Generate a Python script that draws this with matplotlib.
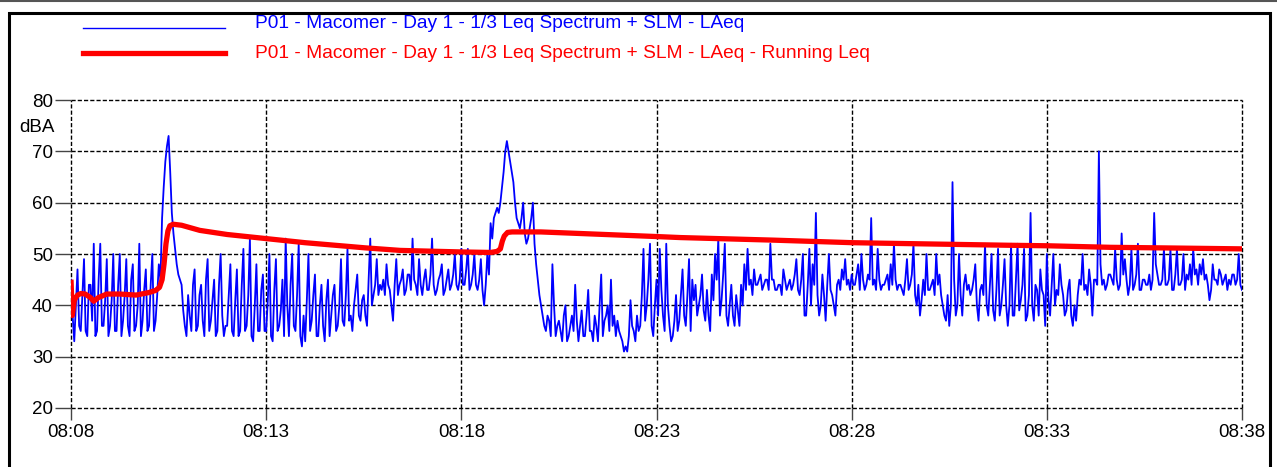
import numpy as np
import matplotlib
matplotlib.use('Agg')
import matplotlib.pyplot as plt
from matplotlib.patches import Rectangle
from matplotlib.lines import Line2D

plt.rcParams['font.family'] = ['Liberation Sans', 'DejaVu Sans']

# LAeq, one value every 5 s from 08:08:00 (one row = one minute)
laeq_5s = [
    45, 33, 47, 35, 49, 34, 44, 52, 35, 52, 36, 49,
    36, 50, 35, 50, 37, 49, 34, 48, 36, 52, 37, 47,
    36, 50, 37, 48, 57, 68, 73, 58, 51, 46, 44, 36,
    42, 35, 47, 36, 44, 34, 49, 37, 45, 35, 50, 34,
    36, 48, 34, 47, 35, 51, 36, 53, 33, 48, 35, 46,
    35, 50, 33, 49, 36, 45, 53, 34, 50, 35, 52, 32,
    33, 50, 37, 46, 34, 44, 33, 45, 38, 44, 36, 49,
    36, 51, 38, 40, 46, 37, 42, 36, 53, 42, 49, 44,
    45, 48, 43, 37, 49, 44, 47, 43, 46, 53, 44, 49,
    42, 47, 43, 53, 42, 45, 48, 43, 47, 44, 50, 43,
    51, 44, 51, 44, 50, 43, 49, 40, 50, 56, 57, 59,
    60, 66, 72, 68, 64, 57, 55, 60, 52, 55, 60, 48,
    42, 38, 35, 37, 48, 34, 37, 33, 40, 34, 38, 44,
    33, 39, 34, 43, 35, 38, 33, 46, 37, 40, 45, 38,
    37, 34, 31, 31, 41, 35, 38, 36, 51, 40, 52, 34,
    45, 51, 38, 52, 36, 34, 42, 37, 47, 36, 49, 45,
    44, 40, 46, 37, 38, 46, 50, 53, 41, 52, 36, 44,
    36, 39, 44, 48, 51, 45, 47, 44, 46, 44, 45, 52,
    45, 43, 44, 47, 43, 45, 44, 49, 42, 50, 38, 51,
    48, 58, 38, 46, 37, 50, 42, 38, 45, 47, 49, 45,
    46, 44, 48, 50, 43, 46, 57, 45, 51, 43, 44, 46,
    48, 52, 43, 44, 42, 49, 44, 52, 40, 38, 45, 50,
    43, 45, 50, 46, 40, 37, 36, 64, 38, 50, 38, 46,
    44, 43, 48, 37, 44, 52, 38, 50, 37, 51, 40, 49,
    36, 52, 38, 52, 41, 51, 38, 58, 37, 43, 47, 42,
    50, 38, 50, 43, 48, 42, 39, 45, 36, 37, 45, 50,
    44, 47, 38, 45, 70, 44, 43, 46, 45, 51, 43, 54,
    49, 42, 51, 44, 52, 43, 45, 44, 43, 58, 46, 44,
    51, 44, 51, 43, 51, 44, 50, 46, 48, 51, 47, 48,
    49, 46, 41, 48, 45, 47, 44, 46, 45, 46, 44, 50,
    43,
]

# in-between readings, 2.5 s after each value above
laeq_mid = [
    38, 40, 36, 42, 35, 44, 37, 34, 45, 36, 41, 34,
    41, 35, 44, 34, 42, 36, 45, 35, 40, 34, 43, 35,
    44, 35, 42, 45, 63, 71, 66, 54, 48, 45, 39, 34,
    38, 44, 35, 42, 37, 45, 35, 41, 34, 44, 38, 36,
    42, 35, 41, 34, 44, 35, 42, 34, 40, 35, 43, 35,
    41, 34, 43, 35, 39, 34, 40, 44, 36, 42, 34, 38,
    41, 35, 42, 34, 40, 36, 41, 34, 42, 35, 40, 37,
    42, 37, 35, 43, 38, 41, 38, 45, 40, 44, 42, 43,
    42, 44, 40, 44, 42, 45, 42, 46, 43, 45, 42, 44,
    45, 43, 46, 44, 43, 46, 42, 45, 43, 46, 44, 45,
    44, 47, 43, 46, 44, 45, 43, 44, 46, 53, 58, 58,
    63, 70, 70, 66, 60, 56, 57, 54, 53, 57, 52, 45,
    40, 36, 38, 34, 40, 36, 35, 38, 33, 36, 35, 37,
    36, 34, 38, 35, 33, 36, 40, 34, 38, 35, 36, 34,
    35, 33, 32, 34, 36, 33, 35, 42, 37, 45, 36, 40,
    38, 43, 35, 40, 33, 37, 35, 42, 38, 42, 35, 41,
    38, 42, 39, 43, 35, 41, 45, 38, 46, 38, 40, 38,
    42, 36, 40, 43, 44, 42, 44, 45, 43, 45, 43, 45,
    43, 44, 42, 45, 44, 43, 46, 43, 45, 38, 44, 40,
    44, 42, 40, 42, 44, 43, 40, 44, 43, 45, 44, 43,
    44, 46, 43, 45, 44, 45, 44, 43, 45, 44, 45, 43,
    44, 45, 44, 43, 45, 43, 46, 42, 44, 41, 42, 43,
    44, 42, 44, 42, 38, 42, 40, 45, 40, 42, 44, 43,
    42, 45, 40, 43, 42, 40, 44, 39, 43, 38, 44, 40,
    40, 38, 45, 39, 44, 37, 42, 40, 44, 38, 43, 36,
    41, 44, 40, 42, 44, 38, 43, 38, 40, 42, 44, 43,
    42, 44, 45, 44, 48, 45, 44, 46, 44, 45, 44, 46,
    45, 44, 43, 46, 43, 45, 44, 46, 45, 48, 44, 45,
    44, 45, 43, 46, 44, 45, 43, 45, 44, 46, 44, 46,
    45, 44, 43, 45, 44, 46, 45, 43, 44, 46, 45, 44,
]

# running Leq (seconds since 08:08, dBA)
leq_t = [0, 2, 5, 10, 15, 22, 30, 35, 42, 55, 75, 100, 120, 130, 136, 140,
         143, 146, 149, 152, 157, 170, 198, 240, 300, 360, 452, 506, 600,
         645, 655, 660, 663, 666, 671, 678, 722, 900, 937, 1080, 1202,
         1442, 1502, 1598, 1671, 1800]
leq_v = [45, 38, 41, 42, 42.3, 42.2, 41.5, 40.8, 41.5, 42.2, 42.2, 42, 42.5,
         42.9, 43.5, 45, 48, 52, 54.5, 55.5, 55.8, 55.6, 54.6, 53.8, 53,
         52.2, 51.2, 50.7, 50.4, 50.3, 50.5, 51, 52.5, 53.5, 54.2, 54.3,
         54.3, 53.4, 53.2, 52.7, 52.2, 51.7, 51.6, 51.3, 51.2, 51]

xtick_labels = ['08:08', '08:13', '08:18', '08:23', '08:28', '08:33', '08:38']
yticks = [20, 30, 40, 50, 60, 70, 80]

label_blue = 'P01 - Macomer - Day 1 - 1/3 Leq Spectrum + SLM - LAeq'
label_red = 'P01 - Macomer - Day 1 - 1/3 Leq Spectrum + SLM - LAeq - Running Leq'

# merge the two blue lists on one time axis
n = len(laeq_mid)
t_blue = np.empty(2 * n + 1)
v_blue = np.empty(2 * n + 1)
t_blue[0::2] = np.arange(n + 1) * 5
t_blue[1::2] = np.arange(n) * 5 + 2.5
v_blue[0::2] = laeq_5s
v_blue[1::2] = laeq_mid

W, H = 1277, 467
fig = plt.figure(figsize=(W / 100, H / 100), dpi=100)
ax = fig.add_axes([71 / W, 1 - 408 / H, (1242 - 71) / W, 308 / H])

ax.plot(t_blue, v_blue, color='#0000ff', lw=1.3, zorder=3)
ax.plot(leq_t, leq_v, color='#ff0000', lw=3.8, zorder=4,
        solid_joinstyle='round', solid_capstyle='butt')

ax.set_xlim(0, 1800)
ax.set_ylim(20, 80)
ax.set_xticks(np.arange(0, 1801, 300))
ax.set_xticklabels(xtick_labels)
ax.set_yticks(yticks)
ax.set_yticklabels([str(v) for v in yticks])

for s in ax.spines.values():
    s.set_visible(False)
ax.set_axisbelow(True)
ax.grid(True, color='black', lw=1.0, linestyle=(0, (3, 1.5)))
for gl in ax.get_xgridlines() + ax.get_ygridlines():
    gl.set_clip_on(False)
ax.tick_params(axis='y', length=11.5, width=1, color='#444444', pad=1.5,
               labelsize=13.5)
ax.tick_params(axis='x', length=8.5, width=1, color='#444444', pad=3,
               labelsize=13.5)

fig.text(55 / W, 1 - 127 / H, 'dBA', ha='right', va='center', fontsize=13.5)

# legend drawn by hand at the top
fig.add_artist(Line2D([83 / W, 225 / W], [1 - 28 / H, 1 - 28 / H],
                      color='#0000ff', lw=1.0, transform=fig.transFigure))
fig.add_artist(Line2D([83 / W, 225 / W], [1 - 53 / H, 1 - 53 / H],
                      color='#ff0000', lw=3.8, transform=fig.transFigure))
fig.text(255 / W, 1 - 23 / H, label_blue, color='#0000ff', fontsize=13.8,
         ha='left', va='center')
fig.text(255 / W, 1 - 53 / H, label_red, color='#ff0000', fontsize=13.8,
         ha='left', va='center')

# outer frame
fig.add_artist(Line2D([0, 1], [1 - 1 / H, 1 - 1 / H], color='#555555', lw=1.5,
                      transform=fig.transFigure))
fig.add_artist(Rectangle((9 / W, -0.1), (1270 - 9) / W, 1.1 - 13 / H,
                         transform=fig.transFigure, fill=False,
                         ec='black', lw=2.2))

fig.savefig('out.png', dpi=100)
